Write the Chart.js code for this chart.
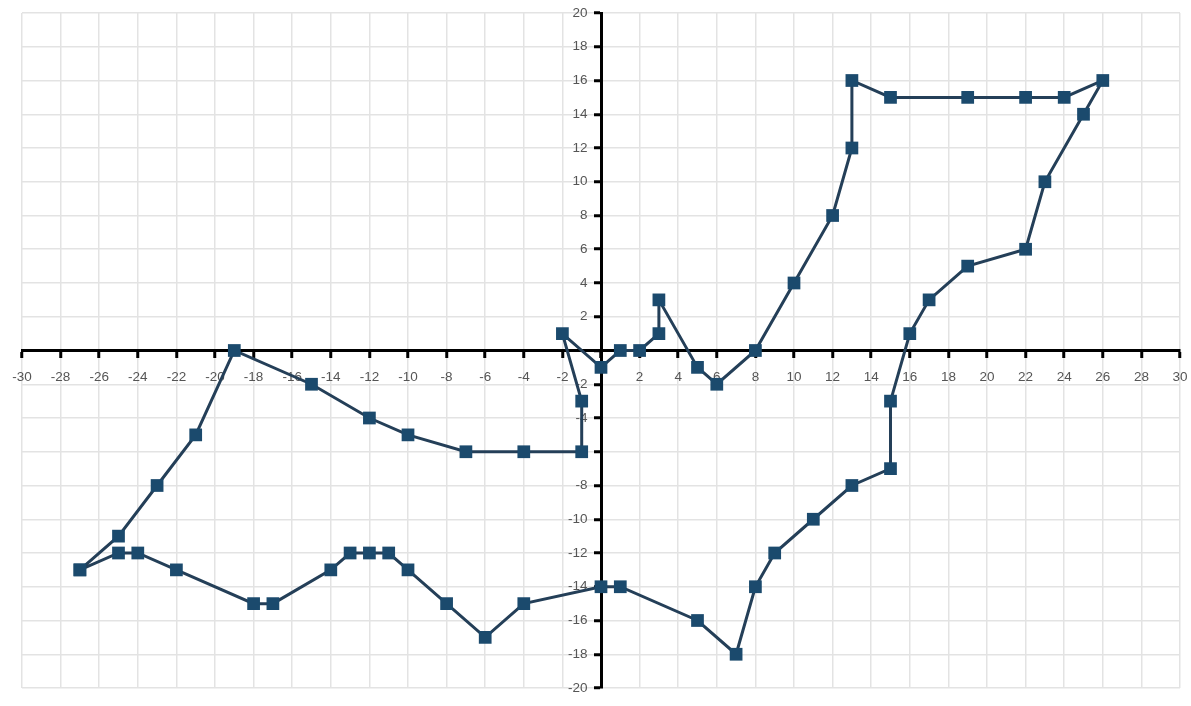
<!DOCTYPE html>
<html>
<head>
<meta charset="utf-8">
<script src="https://cdn.jsdelivr.net/npm/chart.js@4.4.1/dist/chart.umd.min.js"></script>
<style>
  html, body { margin: 0; padding: 0; background: #fff; }
  #wrap { width: 1191px; height: 706px; }
</style>
</head>
<body>
<div id="wrap"><canvas id="myChart"></canvas></div>
<script>
// path of the shape, in drawing order
let pathX = [-27, -25, -23, -21, -19, -15, -12, -10, -7, -4, -1, -1, -2, 0, 1, 2, 3, 3, 5, 6, 8, 10, 12, 13, 13, 15, 19, 22, 24, 26, 25, 23, 22, 19, 17, 16, 15, 15, 13, 11, 9, 8, 7, 5, 1, 0, -4, -6, -8, -10, -11, -12, -13, -14, -17, -18, -22, -24, -25, -27]
let pathY = [-13, -11, -8, -5, 0, -2, -4, -5, -6, -6, -6, -3, 1, -1, 0, 0, 1, 3, -1, -2, 0, 4, 8, 12, 16, 15, 15, 15, 15, 16, 14, 10, 6, 5, 3, 1, -3, -7, -8, -10, -12, -14, -18, -16, -14, -14, -15, -17, -15, -13, -12, -12, -12, -13, -15, -15, -13, -12, -12, -13]

let xTicks = [-30, -28, -26, -24, -22, -20, -18, -16, -14, -12, -10, -8, -6, -4, -2, 0, 2, 4, 6, 8, 10, 12, 14, 16, 18, 20, 22, 24, 26, 28, 30]
let yTicks = [-20, -18, -16, -14, -12, -10, -8, -6, -4, -2, 0, 2, 4, 6, 8, 10, 12, 14, 16, 18, 20]

let points = pathX.map((x, i) => ({ x: x, y: pathY[i] }))

let hideZero = function (value) {
	return value === 0 ? '' : value
}

// labels of a centred y axis sit right on the line, so push them left with trailing spaces
let yLabel = function (value) {
	return value === 0 ? '' : value + '\u2002\u2002'
}

let ctx = document.getElementById("myChart").getContext('2d');
var myChart = new Chart(ctx, {
	type: 'scatter',
	data: {
		datasets: [{
			data: points,
			showLine: true,
			borderColor: "#243f58",
			borderWidth: 3,
			pointStyle: 'rect',
			pointRadius: 9,
			pointBorderWidth: 0,
			pointBackgroundColor: "#1b4a6d",
			tension: 0
		}]
	},
	options: {
		responsive: true,
		maintainAspectRatio: false,
		animation: false,
		layout: {
			padding: { left: 22, right: 11, top: 13, bottom: 18 }
		},
		plugins: {
			legend: { display: false },
			tooltip: { enabled: false }
		},
		scales: {
			x: {
				type: 'linear',
				min: -30,
				max: 30,
				position: { y: 0 },
				afterBuildTicks: function (scale) {
					scale.ticks = xTicks.map(v => ({ value: v }))
				},
				afterFit: function (scale) {
					scale.height = 0
					scale.paddingLeft = 0
					scale.paddingRight = 0
				},
				grid: {
					color: "#e3e3e3",
					lineWidth: 1.5,
					tickColor: "#000",
					tickLength: 6,
					tickWidth: 3
				},
				border: { color: "#000", width: 3 },
				ticks: {
					autoSkip: false,
					maxRotation: 0,
					padding: 13,
					color: "#555",
					font: { family: "Liberation Sans, Arial", size: 13.5 },
					callback: hideZero
				}
			},
			y: {
				type: 'linear',
				min: -20,
				max: 20,
				position: { x: 0 },
				afterBuildTicks: function (scale) {
					scale.ticks = yTicks.map(v => ({ value: v }))
				},
				afterFit: function (scale) {
					scale.width = 0
					scale.paddingTop = 0
					scale.paddingBottom = 0
				},
				grid: {
					color: "#e3e3e3",
					lineWidth: 1.5,
					tickColor: "#000",
					tickLength: 6,
					tickWidth: 3
				},
				border: { color: "#000", width: 3 },
				ticks: {
					autoSkip: false,
					padding: 4,
					color: "#555",
					font: { family: "Liberation Sans, Arial", size: 13.5 },
					callback: yLabel
				}
			}
		}
	}
});
</script>
</body>
</html>
